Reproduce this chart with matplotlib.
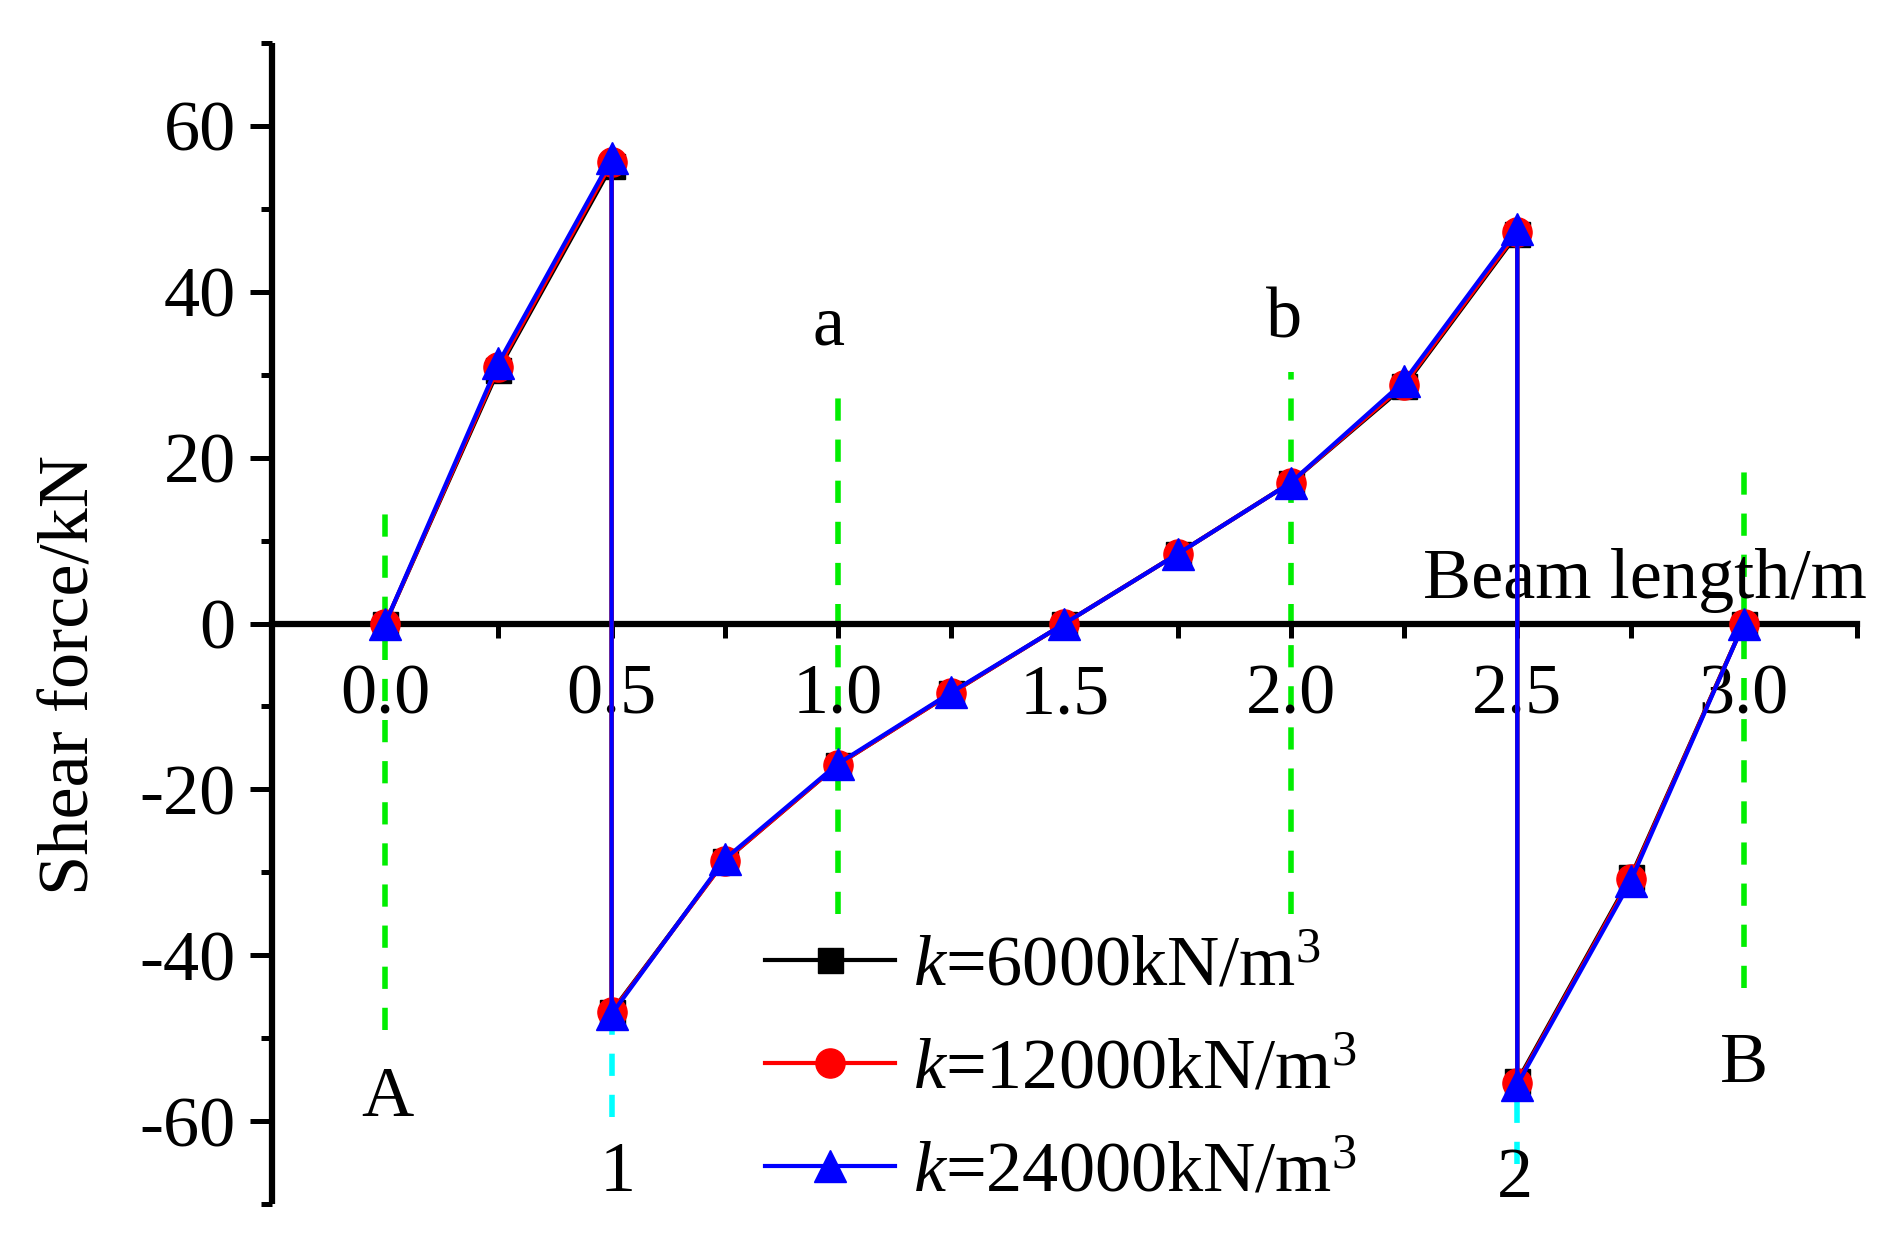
import numpy as np
import matplotlib
matplotlib.use('Agg')
import matplotlib.pyplot as plt
from matplotlib.ticker import FixedLocator, MultipleLocator

plt.rcParams['font.family'] = ['Liberation Serif', 'DejaVu Serif']
plt.rcParams['mathtext.fontset'] = 'custom'
plt.rcParams['mathtext.rm'] = 'Liberation Serif'
plt.rcParams['mathtext.it'] = 'Liberation Serif:italic'
plt.rcParams['axes.unicode_minus'] = False

# beam positions (the jumps at 0.5 and 2.5 appear twice)
beam_x = [0.0, 0.25, 0.5, 0.5, 0.75, 1.0, 1.25, 1.5, 1.75, 2.0, 2.25, 2.5, 2.5, 2.75, 3.0]

# shear force (kN) for each subgrade modulus
shear_6000 = [0, 30.6, 55.2, -46.8, -28.6, -17.0, -8.4, 0, 8.4, 17.0, 28.6, 47.0, -55.2, -30.6, 0]
shear_12000 = [0, 30.9, 55.6, -46.9, -28.6, -17.0, -8.4, 0, 8.4, 17.0, 28.8, 47.2, -55.4, -30.8, 0]
shear_24000 = [0, 31.4, 56.1, -47.1, -28.4, -16.9, -8.3, 0, 8.4, 17.0, 29.2, 47.6, -55.6, -31.1, 0]

series_labels = [r'$k$=6000kN/m$^3$', r'$k$=12000kN/m$^3$', r'$k$=24000kN/m$^3$']

# green guide lines (supports A, B and sections a, b)
guide_x = [0.0, 1.0, 2.0, 3.0]
guide_top = [14.2, 28.5, 30.3, 19.8]
guide_bottom = [-49.0, -35.0, -35.0, -44.0]

# cyan guide lines under the loads 1 and 2
load_x = [0.5, 2.5]
load_top = [-48.0, -56.0]
load_bottom = [-59.5, -65.2]

# point labels: text, x, y
point_text = ['a', 'b', 'A', '1', '2', 'B']
point_x = [0.98, 1.985, 0.005, 0.513, 2.495, 3.0]
point_y = [35.7, 36.6, -57.3, -66.3, -67.1, -53.2]

fs = 52

fig = plt.figure(figsize=(19.02, 12.55), dpi=100)
ax = fig.add_axes([0.1430, 0.0406, 0.8333, 0.9251])

# guide lines first so the curves sit on top
for gx, gt, gb in zip(guide_x, guide_top, guide_bottom):
    ax.plot([gx, gx], [gb, gt], color='#00ee00', lw=4.0, dashes=(4.0, 3.4), zorder=1)
for lx, lt, lb in zip(load_x, load_top, load_bottom):
    ax.plot([lx, lx], [lb, lt], color='#00ffff', lw=4.0, dashes=(4.0, 3.4), zorder=1)

ax.plot(beam_x, shear_6000, color='black', marker='s', ms=18, lw=3.0, label=series_labels[0], zorder=3)
ax.plot(beam_x, shear_12000, color='red', marker='o', ms=21, lw=3.0, label=series_labels[1], zorder=4)
ax.plot(beam_x, shear_24000, color='blue', marker='^', ms=23, lw=3.0, label=series_labels[2], zorder=5)

for t, px, py in zip(point_text, point_x, point_y):
    ax.text(px, py, t, fontsize=fs, ha='center', va='center', zorder=2)

ax.set_xlim(-0.25, 3.25)
ax.set_ylim(-70, 70)

# axis through zero, left axis only
ax.spines['bottom'].set_position(('data', 0))
ax.spines['top'].set_visible(False)
ax.spines['right'].set_visible(False)
ax.spines['left'].set_linewidth(4.5)
ax.spines['bottom'].set_linewidth(4.5)
ax.spines['left'].set_capstyle('butt')

ax.xaxis.set_major_locator(FixedLocator([0.0, 0.5, 1.0, 1.5, 2.0, 2.5, 3.0]))
ax.xaxis.set_minor_locator(FixedLocator([-0.25, 0.25, 0.75, 1.25, 1.75, 2.25, 2.75, 3.25]))
ax.set_xticklabels(['0.0', '0.5', '1.0', '1.5', '2.0', '2.5', '3.0'])
ax.yaxis.set_major_locator(MultipleLocator(20))
ax.yaxis.set_minor_locator(MultipleLocator(10))

ax.tick_params(axis='x', which='both', direction='out', length=10, width=3.6, labelsize=fs, pad=19)
ax.tick_params(axis='y', which='major', direction='out', length=16, width=3.6, labelsize=fs, pad=10)
ax.tick_params(axis='y', which='minor', direction='out', length=8, width=3.6)
for lab in ax.get_xticklabels():
    lab.set_zorder(0)

ax.text(3.272, 3.1, 'Beam length/m', fontsize=fs, ha='right', va='baseline', clip_on=False)

ax.set_ylabel('Shear force/kN', fontsize=fs, va='center')
ax.yaxis.set_label_coords(-0.127, 0.456)

ax.legend(loc='upper left', bbox_to_anchor=(0.402, 0.255), bbox_transform=fig.transFigure,
          frameon=False, fontsize=fs, handlelength=1.8, handletextpad=0.25,
          labelspacing=0.52, borderpad=0, borderaxespad=0)

fig.savefig('out.png', dpi=100)
